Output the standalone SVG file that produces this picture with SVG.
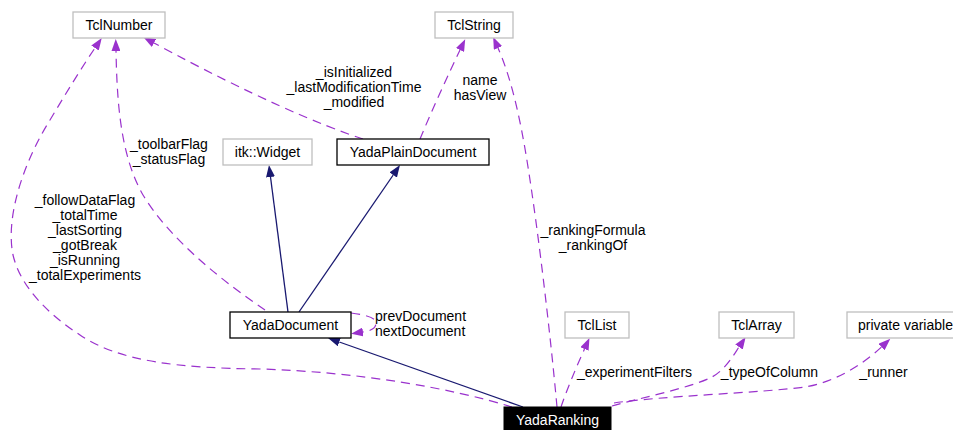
<svg xmlns="http://www.w3.org/2000/svg" width="953" height="430" viewBox="0 0 953 430">
<style>
text{font-family:"Liberation Sans",Arial,Helvetica,sans-serif;font-size:14px;fill:#000}
.c{text-anchor:middle}
.box{fill:#fff;stroke:#bfbfbf;stroke-width:1.3}
.main{fill:#fff;stroke:#000;stroke-width:1.3}
.dash{fill:none;stroke:#9a32cd;stroke-width:1.2;stroke-dasharray:9,6}
.solid{fill:none;stroke:#191970;stroke-width:1.3}
</style>
<defs>
<marker id="ap" markerWidth="12" markerHeight="9" refX="0" refY="4.5" orient="auto" markerUnits="userSpaceOnUse" viewBox="0 0 12 9"><path d="M0,0 L12,4.5 L0,9 z" fill="#9a32cd"/></marker>
<marker id="an" markerWidth="12" markerHeight="9" refX="0" refY="4.5" orient="auto" markerUnits="userSpaceOnUse" viewBox="0 0 12 9"><path d="M0,0 L12,4.5 L0,9 z" fill="#191970"/></marker>
</defs>
<g id="edges">
<path class="dash" marker-end="url(#ap)" d="M512,407 C450,388 360,372 260,369 C180,368 120,362 80,335 C45,312 20,285 13,255 C5,215 25,160 50,120 C65,95 80,70 95,48"/>
<path class="dash" marker-end="url(#ap)" d="M265,310 C225,283 170,240 143,195 C120,155 117,100 116,51"/>
<path class="dash" marker-end="url(#ap)" d="M363,139 C320,125 250,95 154,43"/>
<path class="dash" marker-end="url(#ap)" d="M420,139 C432,110 448,75 460,50"/>
<path class="dash" marker-end="url(#ap)" d="M557,407 C550,330 538,230 528,167 C520,115 510,75 498,48"/>
<path class="solid" marker-end="url(#an)" d="M288,312 L270.5,177"/>
<path class="solid" marker-end="url(#an)" d="M299,312 L393.2,175"/>
<path class="solid" marker-end="url(#an)" d="M523,407 L339.3,342"/>
<path class="dash" marker-end="url(#ap)" d="M351,313 C367,315 376,318 376,323 C376,329 370,331 363,332"/>
<path class="dash" marker-end="url(#ap)" d="M561,407 C566,392 575,370 584.5,349"/>
<path class="dash" marker-end="url(#ap)" d="M612,406 C640,398 690,388 712,377 C725,370 733,356 739,347"/>
<path class="dash" marker-end="url(#ap)" d="M614,403 C660,396 760,393 805,387 C835,382 862,365 881.5,347"/>
<text class="c" x="85" y="205">_followDataFlag</text>
<text class="c" x="85" y="220">_totalTime</text>
<text class="c" x="85" y="235">_lastSorting</text>
<text class="c" x="85" y="250">_gotBreak</text>
<text class="c" x="85" y="265">_isRunning</text>
<text class="c" x="85" y="280">_totalExperiments</text>
<text class="c" x="169" y="149">_toolbarFlag</text>
<text class="c" x="169" y="164">_statusFlag</text>
<text class="c" x="354" y="77">_isInitialized</text>
<text class="c" x="354" y="92">_lastModificationTime</text>
<text class="c" x="354" y="107">_modified</text>
<text class="c" x="480" y="85">name</text>
<text class="c" x="480" y="100">hasView</text>
<text class="c" x="593" y="235">_rankingFormula</text>
<text class="c" x="593" y="250">_rankingOf</text>
<text x="375" y="321">prevDocument</text>
<text x="375" y="336">nextDocument</text>
<text class="c" x="634.5" y="377">_experimentFilters</text>
<text class="c" x="769.5" y="377">_typeOfColumn</text>
<text class="c" x="883.5" y="377">_runner</text>
</g>
<g id="TclNumber"><rect class="box" x="73" y="12" width="92" height="26"/><text class="c" x="119" y="30">TclNumber</text></g>
<g id="TclString"><rect class="box" x="435" y="12" width="78" height="26"/><text class="c" x="474" y="30">TclString</text></g>
<g id="itkWidget"><rect class="box" x="223" y="139" width="89" height="26"/><text class="c" x="267.5" y="157">itk::Widget</text></g>
<g id="YadaPlainDocument"><rect class="main" x="337" y="139" width="152" height="26"/><text class="c" x="413" y="157">YadaPlainDocument</text></g>
<g id="YadaDocument"><rect class="main" x="230" y="312" width="121" height="26"/><text class="c" x="290.5" y="330">YadaDocument</text></g>
<g id="TclList"><rect class="box" x="565" y="312" width="64" height="26"/><text class="c" x="597" y="330">TclList</text></g>
<g id="TclArray"><rect class="box" x="719" y="312" width="75" height="26"/><text class="c" x="756.5" y="330">TclArray</text></g>
<g id="privateVariable"><rect class="box" x="847" y="312" width="116" height="26"/><text x="858" y="330">private variable</text></g>
<g id="YadaRanking"><rect x="504" y="407" width="107" height="26" fill="#000" stroke="#000"/><text class="c" x="557.5" y="425" style="fill:#fff">YadaRanking</text></g>
</svg>
